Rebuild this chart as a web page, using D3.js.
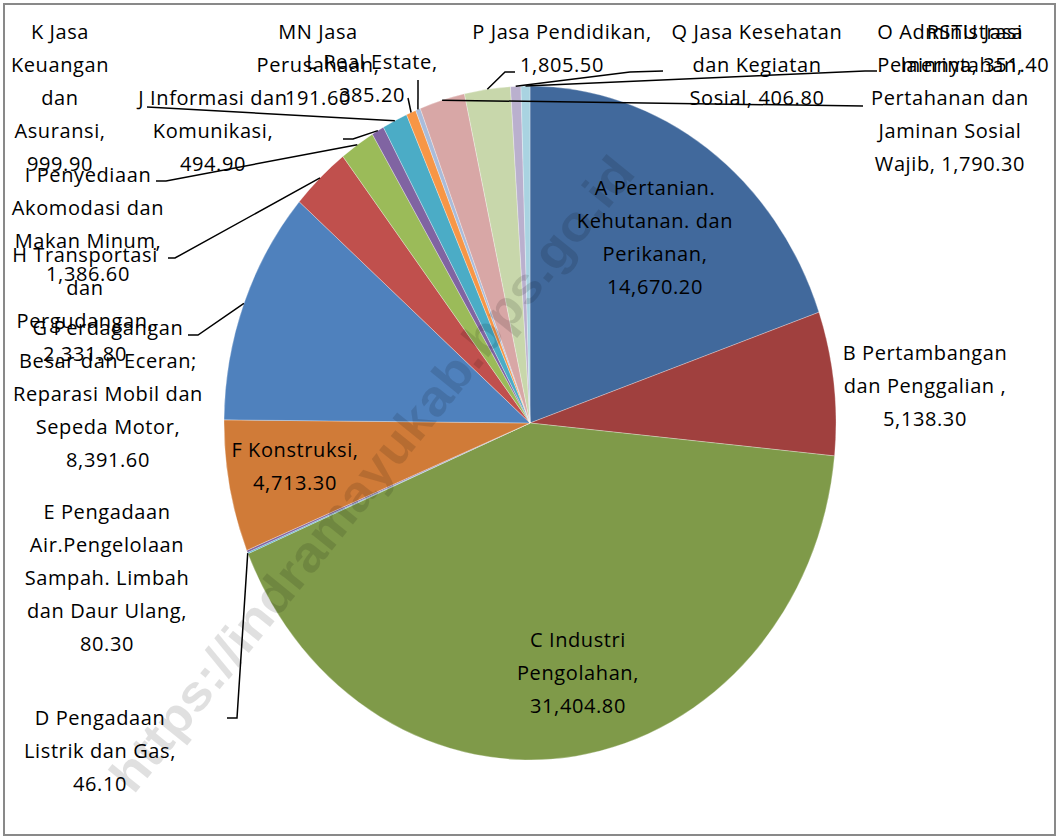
<!DOCTYPE html>
<html>
<head>
<meta charset="utf-8">
<script src="https://cdn.jsdelivr.net/npm/d3@7"></script>
<style>
  body { margin: 0; background: #fff; }
  text { font-family: "Open Sans", "Noto Sans", sans-serif; }
</style>
</head>
<body>
<div id="chart"></div>
<script>
// data: PDRB by sector
var categories = ["A", "B", "C", "D", "E", "F", "G", "H", "I", "J", "K", "L", "MN", "O", "P", "Q", "RSTU"];
var values = [14670.2, 5138.3, 31404.8, 46.1, 80.3, 4713.3, 8391.6, 2331.8, 1386.6, 494.9, 999.9, 385.2, 191.6, 1790.3, 1805.5, 406.8, 351.4];
var labelLines = {
  A: ["A Pertanian.", "Kehutanan. dan", "Perikanan,", "{v}"],
  B: ["B Pertambangan", "dan Penggalian ,", "{v}"],
  C: ["C Industri", "Pengolahan,", "{v}"],
  D: ["D Pengadaan", "Listrik dan Gas,", "{v}"],
  E: ["E Pengadaan", "Air.Pengelolaan", "Sampah. Limbah", "dan Daur Ulang,", "{v}"],
  F: ["F Konstruksi,", "{v}"],
  G: ["G Perdagangan", "Besar dan Eceran;", "Reparasi Mobil dan", "Sepeda  Motor,", "{v}"],
  H: ["H Transportasi", "dan", "Pergudangan,", "{v}"],
  I: ["I Penyediaan", "Akomodasi dan", "Makan Minum,", "{v}"],
  J: ["J Informasi dan", "Komunikasi,", "{v}"],
  K: ["K Jasa", "Keuangan", "dan", "Asuransi,", "{v}"],
  L: ["L Real Estate,", "{v}"],
  MN: ["MN Jasa", "Perusahaan,", "{v}"],
  O: ["O Administrasi", "Pemerintahan,", "Pertahanan dan", "Jaminan Sosial", "Wajib, {v}"],
  P: ["P Jasa Pendidikan,", "{v}"],
  Q: ["Q Jasa Kesehatan", "dan Kegiatan", "Sosial, {v}"],
  RSTU: ["RSTU Jasa", "lainnya, {v}"]
};
var colors = ["#41699c", "#a0403e", "#7f9a49", "#4bacc6", "#8064a2", "#d07b38", "#4f81bd", "#c0504d",
              "#9bbb59", "#8064a2", "#4bacc6", "#f79646", "#a9bcda", "#d8a7a6", "#c8d7ab", "#bab0ce", "#a9d3e1"];

// where labels go (center x, first line center y) and leader lines (label-side points)
var labelPos = {
  A: [655, 188], B: [925, 353], C: [578, 640], D: [100, 718], E: [107, 512], F: [295, 450],
  G: [108, 328], H: [85, 255], I: [88, 175], J: [213, 98], K: [60, 32], L: [372, 62],
  MN: [318, 32], O: [950, 32], P: [562, 32], Q: [757, 32], RSTU: [975, 32]
};
var leaders = {
  K: [[147, 107]],
  J: [[343, 139], [353, 139]],
  I: [[156, 181], [166, 181]],
  H: [[168, 258], [175, 258]],
  G: [[188, 335], [198, 335]],
  D: [[227, 718], [237, 718]],
  L: [[408, 98]],
  MN: [[418, 80]],
  O: [[863, 106]],
  P: [[515, 72], [505, 72]],
  Q: [[663, 71], [630, 72]],
  RSTU: [[877, 71], [865, 71]]
};

var W = 1059, H = 839;
var cx = 530, cy = 423, rx = 306, ry = 337;
var lineH = 33;

var svg = d3.select("#chart").append("svg")
  .attr("width", W)
  .attr("height", H);

svg.append("rect")
  .attr("x", 4).attr("y", 4)
  .attr("width", W - 8).attr("height", H - 8)
  .attr("fill", "#fff")
  .attr("stroke", "#898989")
  .attr("stroke-width", 2);

var rows = categories.map((c, i) => ({cat: c, value: values[i], color: colors[i]}));

var pie = d3.pie().sort(null).value(d => d.value).startAngle(0).endAngle(2 * Math.PI);
var arcs = pie(rows);
var arc = d3.arc().innerRadius(0).outerRadius(rx);

var gPie = svg.append("g")
  .attr("transform", "translate(" + cx + "," + cy + ") scale(1," + (ry / rx) + ")");

gPie.selectAll("path")
  .data(arcs)
  .enter()
  .append("path")
  .attr("d", arc)
  .attr("fill", d => d.data.color)
  .attr("stroke", "#fff")
  .attr("stroke-width", 0.4)
  .attr("stroke-opacity", 0.7);

// watermark
svg.append("text")
  .attr("transform", "translate(372,474) rotate(-51)")
  .attr("text-anchor", "middle")
  .attr("dominant-baseline", "central")
  .style("font-family", "'Liberation Sans', Arial, sans-serif")
  .style("font-weight", "bold")
  .style("font-size", "50px")
  .attr("fill", "#000")
  .attr("fill-opacity", 0.12)
  .attr("textLength", 800)
  .attr("lengthAdjust", "spacingAndGlyphs")
  .text("https://indramayukab.bps.go.id");

// leader lines: from label side to the slice edge
function edgePoint(d) {
  var a = (d.startAngle + d.endAngle) / 2;
  return [cx + rx * Math.sin(a), cy - ry * Math.cos(a)];
}
arcs.forEach(function (d) {
  var pts = leaders[d.data.cat];
  if (!pts) return;
  var all = pts.concat([edgePoint(d)]);
  svg.append("path")
    .attr("d", d3.line()(all))
    .attr("fill", "none")
    .attr("stroke", "#000")
    .attr("stroke-width", 1.5);
});

var fmt = d3.format(",.2f");
arcs.forEach(function (d) {
  var c = d.data.cat;
  var p = labelPos[c];
  var t = svg.append("text")
    .attr("text-anchor", "middle")
    .style("font-size", "20px")
    .style("letter-spacing", "0.6px")
    .attr("fill", "#000");
  labelLines[c].forEach(function (ln, i) {
    t.append("tspan")
      .attr("x", p[0])
      .attr("y", p[1] + i * lineH)
      .attr("dy", "0.35em")
      .text(ln.replace("{v}", fmt(d.data.value)));
  });
});
</script>
</body>
</html>
